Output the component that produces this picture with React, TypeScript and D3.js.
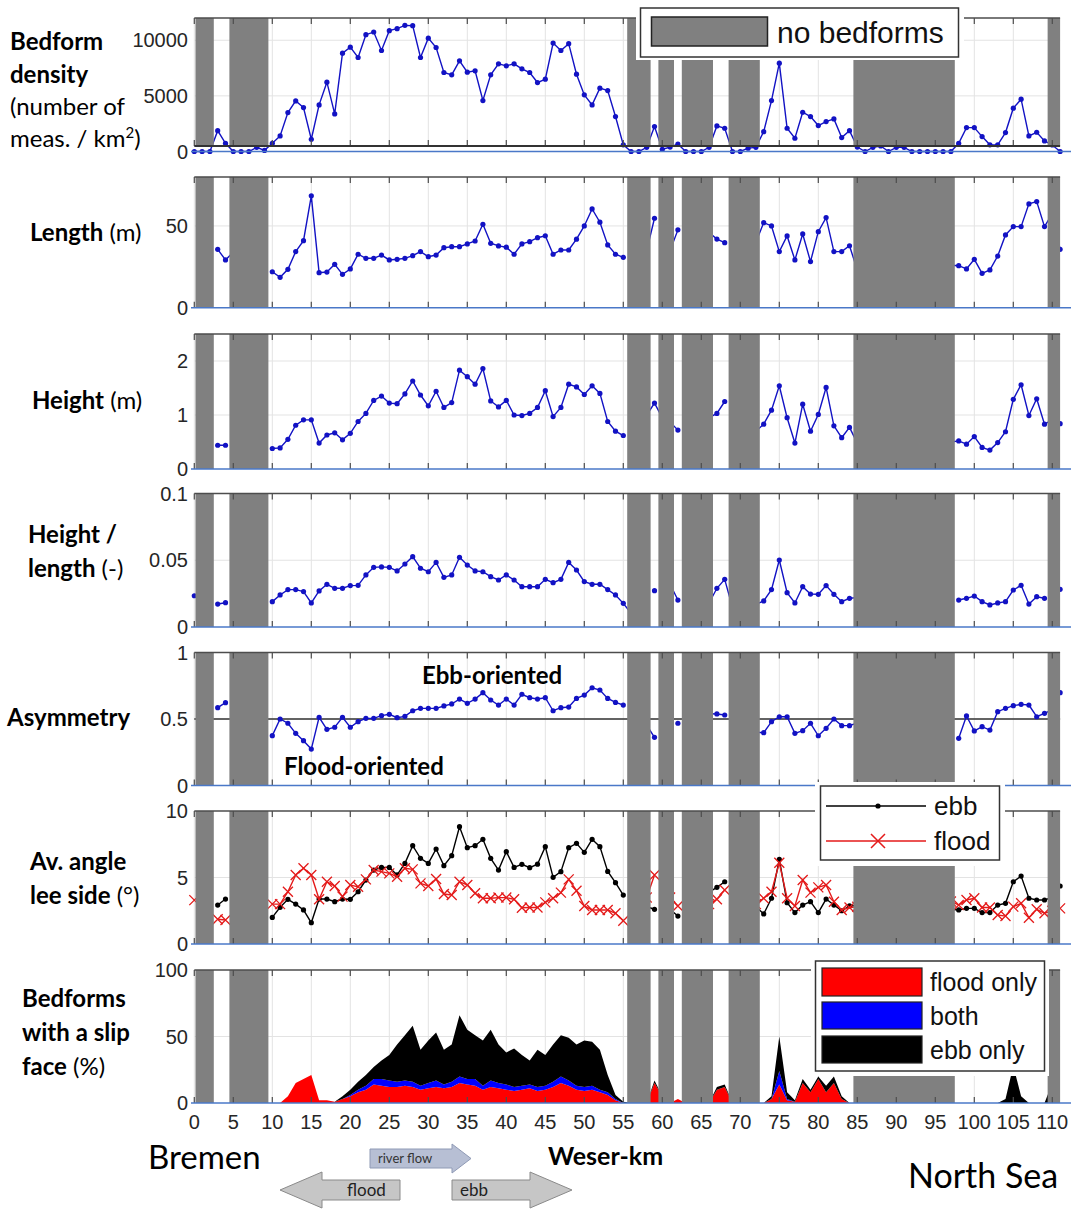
import React from "react"
import * as d3 from "d3"

// km positions along the Weser (one measurement per km)
const km = d3.range(0, 112)
const xTicks = d3.range(0, 111, 5)

// km ranges without bedforms (grey bands)
const noBedforms: [number, number][] = [
  [0.15, 2.5], [4.5, 9.5], [55.5, 58.5], [59.5, 61.5], [62.5, 66.5], [68.5, 72.5], [84.5, 97.5], [109.4, 111],
]

const N = null

// number of meas. / km2
const density = [
  0, 0, 0, 1875, 735, 0, 0, 0, 375, 100,
  735, 1400, 3500, 4550, 3950, 1100, 4190, 6230, 3380, 8840,
  9380, 8450, 10500, 10740, 9080, 10860, 11040, 11340, 11310, 8450,
  10190, 9350, 7100, 6890, 8150, 7130, 7250, 4580, 6890, 7880,
  7700, 7880, 7430, 7100, 6200, 6500, 9750, 9080, 9690, 6950,
  5090, 4190, 5690, 5480, 3140, 600, 0, 0, 375, 2240,
  200, 400, 675, 0, 0, 0, 375, 2300, 2090, 0,
  0, 300, 375, 1785, 4580, 7940, 2090, 1190, 3530, 3140,
  2330, 2690, 2930, 1250, 1875, 400, 0, 375, 500, 0,
  375, 375, 0, 0, 0, 0, 0, 0, 735, 2150,
  2150, 1340, 600, 600, 1700, 3890, 4700, 1400, 1730, 950,
  585, 0,
]

// m
const lengthM = [
  N, N, N, 35.7, 29.2, 34, N, N, N, N,
  22.0, 18.6, 23.5, 34.3, 41, 68.4, 21.4, 21.8, 26.5, 20.4,
  23.7, 32.7, 30.2, 30.2, 32.2, 29.2, 29.6, 30.2, 31.8, 34.3,
  31.2, 32.2, 36.7, 37.3, 37.3, 39, 40.8, 51, 39.4, 37.8,
  37, 32.7, 39, 40.4, 42.8, 44, 32.7, 35.3, 35.3, 41.9,
  50, 60.4, 52.3, 38.4, 32.7, 30.8, N, N, 35, 54.7,
  N, 35, 47.6, N, N, N, 46, 42, 39.8, N,
  N, N, 40, 52, 50, 34.3, 43.9, 29.2, 45.1, 28.2,
  46.5, 55.1, 34.3, 34.3, 37.9, 23, N, N, N, N,
  N, N, N, N, N, N, N, 26, 25.7, 23.7,
  29.6, 21, 23.1, 31.6, 44.5, 49.6, 49.6, 63.5, 64.9, 49.6,
  57.5, 35.7,
]

// m
const heightM = [
  N, N, N, 0.44, 0.44, N, N, N, N, N,
  0.38, 0.39, 0.55, 0.81, 0.91, 0.91, 0.48, 0.63, 0.67, 0.54,
  0.66, 0.88, 1.03, 1.27, 1.35, 1.22, 1.21, 1.39, 1.63, 1.37,
  1.17, 1.44, 1.14, 1.23, 1.83, 1.71, 1.57, 1.86, 1.26, 1.15,
  1.27, 1.0, 0.99, 1.03, 1.14, 1.45, 0.97, 1.14, 1.57, 1.52,
  1.38, 1.54, 1.4, 0.88, 0.7, 0.62, N, N, 1.0, 1.22,
  0.95, 0.87, 0.72, N, N, N, 0.95, 1.03, 1.25, N,
  N, N, 0.7, 0.83, 1.09, 1.54, 0.95, 0.48, 1.2, 0.7,
  1.01, 1.51, 0.8, 0.58, 0.77, 0.48, N, N, N, N,
  N, N, N, N, N, N, N, 0.5, 0.52, 0.46,
  0.6, 0.4, 0.35, 0.49, 0.69, 1.29, 1.56, 0.99, 1.3, 0.83,
  0.91, 0.84,
]

// height / length
const steepness = [
  0.0234, N, N, 0.0172, 0.0182, N, N, N, N, N,
  0.019, 0.024, 0.028, 0.028, 0.0265, 0.018, 0.027, 0.032, 0.029, 0.029,
  0.031, 0.0312, 0.039, 0.0447, 0.045, 0.0447, 0.042, 0.0472, 0.0527, 0.044,
  0.0414, 0.0484, 0.0372, 0.039, 0.0522, 0.0464, 0.042, 0.0414, 0.0377, 0.0352,
  0.039, 0.0352, 0.0302, 0.0302, 0.0302, 0.0357, 0.0332, 0.0357, 0.0484, 0.0427,
  0.034, 0.032, 0.032, 0.028, 0.024, 0.0177, 0.0103, N, N, 0.0272,
  N, 0.032, 0.0202, N, N, N, 0.018, 0.029, 0.0357, 0.0145,
  N, N, 0.017, 0.0195, 0.028, 0.0502, 0.0257, 0.018, 0.0302, 0.0247,
  0.0245, 0.031, 0.0245, 0.019, 0.0215, 0.022, N, N, N, N,
  N, N, N, N, N, N, N, N, 0.0202, 0.0215,
  0.0232, 0.019, 0.0165, 0.018, 0.019, 0.0277, 0.0312, 0.0172, 0.0227, 0.0215,
  N, 0.0282,
]

const asymmetry = [
  N, N, N, 0.585, 0.623, N, N, N, N, N,
  0.375, 0.5, 0.468, 0.392, 0.337, 0.274, 0.513, 0.422, 0.438, 0.513,
  0.438, 0.48, 0.505, 0.505, 0.525, 0.535, 0.51, 0.52, 0.562, 0.58,
  0.58, 0.58, 0.598, 0.613, 0.65, 0.618, 0.65, 0.698, 0.643, 0.605,
  0.65, 0.605, 0.686, 0.66, 0.65, 0.66, 0.562, 0.585, 0.59, 0.655,
  0.68, 0.735, 0.718, 0.655, 0.625, 0.605, N, N, 0.453, 0.362,
  N, N, 0.468, N, N, N, 0.54, 0.538, 0.53, N,
  N, N, 0.4, 0.397, 0.48, 0.517, 0.517, 0.392, 0.412, 0.468,
  0.374, 0.43, 0.5, 0.45, 0.45, 0.47, N, N, N, N,
  N, N, N, N, N, N, N, N, 0.355, 0.523,
  0.41, 0.442, 0.417, 0.555, 0.58, 0.6, 0.61, 0.605, 0.517, 0.543,
  0.57, 0.698,
]

// average lee side angle (deg)
const angleEbb = [
  N, N, N, 2.93, 3.38, N, N, N, N, N,
  2.0, 2.76, 3.36, 3.0, 2.56, 1.6, 3.38, 3.38, 3.18, 3.38,
  3.36, 3.93, 4.81, 5.56, 5.76, 5.76, 5.19, 6.06, 7.39, 6.44,
  6.06, 7.14, 5.89, 6.64, 8.82, 7.24, 7.39, 7.87, 6.44, 5.56,
  6.94, 5.76, 5.99, 5.74, 6.0, 7.32, 5.01, 5.44, 7.24, 7.57,
  6.89, 7.87, 7.32, 5.46, 4.61, 3.68, N, N, 2.8, 2.61,
  N, 2.6, 2.1, N, N, N, 3.9, 4.26, 4.68, N,
  N, N, 2.8, 2.26, 3.44, 6.37, 3.1, 2.36, 2.93, 3.18,
  2.36, 3.38, 2.93, 2.5, 2.86, 2.9, N, N, N, N,
  N, N, N, N, N, N, N, 2.6, 2.56, 2.68,
  2.68, 2.36, 2.36, 2.93, 3.06, 4.68, 5.11, 3.44, 3.31, 3.31,
  3.5, 4.36,
]

const angleFlood = [
  3.3, N, N, 1.86, 1.8, N, N, N, N, N,
  3.0, 3.0, 3.93, 5.19, 5.69, 5.19, 3.36, 4.68, 4.36, 3.56,
  4.44, 4.3, 4.86, 5.56, 5.44, 5.31, 5.06, 5.69, 5.61, 4.56,
  4.36, 4.89, 3.76, 3.68, 4.68, 4.44, 3.81, 3.44, 3.44, 3.49,
  3.49, 3.36, 2.73, 2.74, 2.74, 3.13, 3.44, 3.86, 4.86, 4.01,
  2.86, 2.56, 2.56, 2.56, 2.31, 1.75, N, N, 3.5, 5.19,
  N, 3.5, 2.86, N, N, N, 3.0, 3.36, 4.06, N,
  N, N, 3.0, 3.44, 3.93, 6.11, 3.44, 2.86, 4.81, 3.86,
  4.26, 4.44, 3.18, 2.56, 2.74, 2.8, N, N, N, N,
  N, N, N, N, N, N, N, 3.2, 2.93, 3.31,
  3.44, 2.74, 2.74, 2.18, 2.1, 2.81, 3.06, 1.98, 2.61, 2.31,
  2.5, 2.68,
]

// bedforms with a slip face (%), stacked: flood only, both, ebb only
const slipFlood = [
  0, 0, 0, 0, 0, 0, 0, 0, 0, 0,
  0, 0, 5, 15, 18, 21, 2, 2, 1, 3,
  5, 8, 10, 14, 13, 12, 12, 13, 12, 10,
  11, 12, 11, 12, 15, 14, 13, 10, 12, 11,
  10, 9, 10, 11, 9, 10, 12, 15, 13, 10,
  9, 10, 8, 6, 2, 0, 0, 0, 0, 15,
  5, 0, 3, 0, 0, 0, 0, 10, 12, 0,
  0, 0, 0, 0, 3, 14, 2, 1, 15, 8,
  18, 8, 15, 3, 0, 0, 0, 0, 0, 0,
  0, 0, 0, 0, 0, 0, 0, 0, 0, 0,
  0, 0, 0, 0, 0, 0, 0, 0, 0, 0,
  0, 0,
]
const slipBoth = [
  0, 0, 0, 0, 0, 0, 0, 0, 0, 0,
  0, 0, 0, 0, 0, 0, 0, 0, 0, 0,
  1, 2, 3, 4, 5, 5, 4, 4, 4, 3,
  4, 5, 3, 4, 5, 4, 5, 3, 5, 4,
  4, 3, 3, 3, 3, 3, 4, 5, 4, 3,
  3, 3, 2, 2, 1, 0, 0, 0, 0, 0,
  0, 0, 0, 0, 0, 0, 0, 0, 0, 0,
  0, 0, 0, 0, 0, 10, 1, 0, 0, 0,
  0, 0, 0, 0, 0, 0, 0, 0, 0, 0,
  0, 0, 0, 0, 0, 0, 0, 0, 0, 0,
  0, 0, 0, 0, 0, 0, 0, 0, 0, 0,
  0, 0,
]
const slipEbb = [
  0, 0, 0, 0, 0, 0, 0, 0, 0, 0,
  0, 0, 0, 0, 0, 0, 0, 0, 0, 2,
  4, 6, 8, 9, 14, 19, 28, 34, 42, 27,
  32, 36, 26, 28, 46, 37, 33, 34, 38, 29,
  24, 29, 23, 18, 28, 23, 28, 31, 32, 31,
  35, 33, 30, 13, 3, 1, 0, 0, 0, 2,
  0, 0, 0, 0, 0, 0, 0, 2, 2, 0,
  0, 0, 0, 0, 2, 26, 5, 1, 3, 2,
  2, 5, 5, 2, 0, 0, 0, 0, 0, 0,
  0, 0, 0, 0, 0, 0, 0, 0, 0, 0,
  0, 0, 0, 0, 3, 28, 5, 0, 0, 0,
  15, 0,
]

const BAND = "#808080"
const GRID = "#e3e3e3"
const FRAME = "#4d4d4d"
const BLUE = "#1212c4"
const SEP = "#4a78c8"
const TICKFONT = "'Liberation Sans', Arial, sans-serif"
const LABELFONT = "Lato, 'Open Sans', sans-serif"

const x = d3.scaleLinear().domain([0, 111]).range([194.3, 1060.1])

type PanelDef = {
  id: string
  domain: [number, number]
  range: [number, number]
  ticks: number[]
  fmt: (v: number) => string
  bandBottom?: number
}

const panels: PanelDef[] = [
  { id: "density", domain: [0, 12000], range: [151.5, 18], ticks: [0, 5000, 10000], fmt: d => String(d), bandBottom: 146 },
  { id: "length", domain: [0, 80], range: [307.7, 176.9], ticks: [0, 50], fmt: d => String(d) },
  { id: "height", domain: [0, 2.5], range: [469, 334], ticks: [0, 1, 2], fmt: d => String(d) },
  { id: "steep", domain: [0, 0.1], range: [627, 493.5], ticks: [0, 0.05, 0.1], fmt: d => String(d) },
  { id: "asym", domain: [0, 1], range: [785.5, 652.5], ticks: [0, 0.5, 1], fmt: d => String(d) },
  { id: "angle", domain: [0, 10], range: [944, 811], ticks: [0, 5, 10], fmt: d => String(d) },
  { id: "slip", domain: [0, 100], range: [1103, 970], ticks: [0, 50, 100], fmt: d => String(d) },
]

function Background({ p }: { p: PanelDef }) {
  const y = d3.scaleLinear().domain(p.domain).range(p.range)
  const top = p.range[1]
  const bottom = p.bandBottom ?? p.range[0]
  return (
    <g>
      {xTicks.map(t => (
        <line key={"vx" + t} x1={x(t)} x2={x(t)} y1={top} y2={bottom} stroke={GRID} strokeWidth={1} />
      ))}
      {p.ticks.filter(t => t > 0 && t < p.domain[1]).map(t => (
        <line key={"hy" + t} x1={x(0)} x2={x(111)} y1={y(t)} y2={y(t)} stroke={GRID} strokeWidth={1} />
      ))}
    </g>
  )
}

function Bands({ p }: { p: PanelDef }) {
  const top = p.range[1]
  const bottom = p.bandBottom ?? p.range[0]
  return (
    <g>
      {noBedforms.map(([a, b], i) => (
        <rect key={i} x={x(a)} y={top} width={x(b) - x(a)} height={bottom - top} fill={BAND} />
      ))}
    </g>
  )
}

function Frame({ p }: { p: PanelDef }) {
  const y = d3.scaleLinear().domain(p.domain).range(p.range)
  const top = p.range[1]
  const bottom = p.bandBottom ?? p.range[0]
  return (
    <g>
      <line x1={x(0)} x2={x(111)} y1={top} y2={top} stroke={FRAME} strokeWidth={1.5} />
      {xTicks.map(t => (
        <g key={t}>
          <line x1={x(t)} x2={x(t)} y1={top} y2={top + 6} stroke={FRAME} strokeWidth={1.2} />
          <line x1={x(t)} x2={x(t)} y1={bottom} y2={bottom - 6} stroke={FRAME} strokeWidth={1.2} />
        </g>
      ))}
      {p.bandBottom != null && (
        <line x1={x(0)} x2={x(111)} y1={p.bandBottom} y2={p.bandBottom} stroke="#333" strokeWidth={2} />
      )}
      <line x1={191} x2={1071} y1={y(0)} y2={y(0)} stroke={SEP} strokeWidth={1.5} />
      {p.ticks.map(t => (
        <text key={"l" + t} x={188} y={y(t)} dy="0.36em" textAnchor="end" fontFamily={TICKFONT} fontSize={20} fill="#262626">
          {p.fmt(t)}
        </text>
      ))}
    </g>
  )
}

function SeriesLine({ values, y, color, marker }: { values: (number | null)[]; y: d3.ScaleLinear<number, number>; color: string; marker: "dot" | "x" }) {
  const line = d3.line<number | null>()
    .defined(v => v != null)
    .x((_, i) => x(km[i]))
    .y(v => y(v as number))
  return (
    <g>
      <path d={line(values) ?? ""} fill="none" stroke={color} strokeWidth={1.4} />
      {values.map((v, i) =>
        v == null ? null : marker === "dot" ? (
          <circle key={i} cx={x(km[i])} cy={y(v)} r={2.6} fill={color} />
        ) : (
          <path key={i} transform={`translate(${x(km[i])},${y(v)})`} d="M-5,-5L5,5M-5,5L5,-5" stroke={color} strokeWidth={1.3} fill="none" />
        )
      )}
    </g>
  )
}

function SlipAreas({ p }: { p: PanelDef }) {
  const y = d3.scaleLinear().domain(p.domain).range(p.range)
  const rows = km.map((k, i) => ({ k, flood: slipFlood[i], both: slipBoth[i], ebb: slipEbb[i] }))
  const stack = d3.stack<{ k: number; flood: number; both: number; ebb: number }>().keys(["flood", "both", "ebb"])(rows)
  const area = d3.area<d3.SeriesPoint<{ k: number }>>()
    .x(d => x(d.data.k))
    .y0(d => y(d[0]))
    .y1(d => y(d[1]))
  const colors = ["#ff0000", "#0000ff", "#000000"]
  return (
    <g>
      {stack.map((s, i) => (
        <path key={s.key} d={area(s as any) ?? ""} fill={colors[i]} stroke="none" />
      ))}
    </g>
  )
}

function Label({ x: lx, y: ly, bold, normal }: { x: number; y: number; bold: string; normal?: string }) {
  return (
    <text x={lx} y={ly} fontFamily={LABELFONT} fontSize={24} fill="#000">
      <tspan fontWeight="bold">{bold}</tspan>
      {normal && <tspan fontWeight="normal">{normal}</tspan>}
    </text>
  )
}

export default function App() {
  const ys = Object.fromEntries(panels.map(p => [p.id, d3.scaleLinear().domain(p.domain).range(p.range)])) as Record<string, d3.ScaleLinear<number, number>>
  const pSlip = panels[6]

  return (
    <div style={{ position: "absolute", left: 0, top: 0, width: 1071, height: 1211, background: "#fff" }}>
      <svg width={1071} height={1211} viewBox="0 0 1071 1211">
        <rect width={1071} height={1211} fill="#fff" />

        {panels.map(p => <Background key={"bg" + p.id} p={p} />)}

        {/* data */}
        <SeriesLine values={density} y={ys.density} color={BLUE} marker="dot" />
        <SeriesLine values={lengthM} y={ys.length} color={BLUE} marker="dot" />
        <SeriesLine values={heightM} y={ys.height} color={BLUE} marker="dot" />
        <SeriesLine values={steepness} y={ys.steep} color={BLUE} marker="dot" />
        <line x1={x(0)} x2={x(111)} y1={ys.asym(0.5)} y2={ys.asym(0.5)} stroke="#333" strokeWidth={1.5} />
        <SeriesLine values={asymmetry} y={ys.asym} color={BLUE} marker="dot" />
        <SeriesLine values={angleEbb} y={ys.angle} color="#000" marker="dot" />
        <SeriesLine values={angleFlood} y={ys.angle} color="#e41a1a" marker="x" />
        <SlipAreas p={pSlip} />

        {panels.map(p => <Bands key={"b" + p.id} p={p} />)}
        {panels.map(p => <Frame key={"f" + p.id} p={p} />)}

        {/* x axis labels */}
        {xTicks.map(t => (
          <text key={t} x={x(t)} y={1129} textAnchor="middle" fontFamily={TICKFONT} fontSize={20} fill="#262626">{t}</text>
        ))}

        {/* legend: no bedforms */}
        <rect x={636} y={4} width={328} height={56} fill="#fff" />
        <rect x={640.5} y={8} width={318} height={49} fill="#fff" stroke="#333" strokeWidth={1.5} />
        <rect x={651.5} y={17} width={116} height={29} fill={BAND} stroke="#222" strokeWidth={1.5} />
        <text x={777} y={43} fontFamily={TICKFONT} fontSize={30} fill="#111">no bedforms</text>

        {/* legend: ebb / flood */}
        <rect x={815} y={782} width={190} height={84} fill="#fff" />
        <rect x={820.5} y={786} width={179} height={74} fill="#fff" stroke="#333" strokeWidth={1.5} />
        <line x1={826} x2={926} y1={806} y2={806} stroke="#000" strokeWidth={1.4} />
        <circle cx={878} cy={806} r={2.6} fill="#000" />
        <text x={934} y={815} fontFamily={TICKFONT} fontSize={26} fill="#111">ebb</text>
        <line x1={826} x2={926} y1={841} y2={841} stroke="#e41a1a" strokeWidth={1.4} />
        <path transform="translate(878,841)" d="M-7,-7L7,7M-7,7L7,-7" stroke="#e41a1a" strokeWidth={1.5} />
        <text x={934} y={850} fontFamily={TICKFONT} fontSize={26} fill="#111">flood</text>

        {/* legend: slip face */}
        <rect x={811} y={956} width={238} height={120} fill="#fff" />
        <rect x={815.5} y={961} width={229} height={110} fill="#fff" stroke="#333" strokeWidth={1.5} />
        <rect x={822} y={968} width={100} height={28} fill="#ff0000" stroke="#222" strokeWidth={1.2} />
        <text x={930} y={991} fontFamily={TICKFONT} fontSize={25} fill="#111">flood only</text>
        <rect x={822} y={1002} width={100} height={27} fill="#0000ff" stroke="#222" strokeWidth={1.2} />
        <text x={930} y={1025} fontFamily={TICKFONT} fontSize={25} fill="#111">both</text>
        <rect x={822} y={1036} width={100} height={27} fill="#000" stroke="#222" strokeWidth={1.2} />
        <text x={930} y={1059} fontFamily={TICKFONT} fontSize={25} fill="#111">ebb only</text>

        {/* left labels */}
        <Label x={10} y={50} bold="Bedform" />
        <Label x={10} y={83} bold="density" />
        <Label x={10} y={115} bold="" normal="(number of" />
        <text x={10} y={147} fontFamily={LABELFONT} fontSize={24}>meas. / km<tspan fontSize={15} dy={-9}>2</tspan><tspan dy={9}>)</tspan></text>
        <Label x={30} y={241} bold="Length" normal=" (m)" />
        <Label x={32} y={409} bold="Height" normal=" (m)" />
        <Label x={28} y={543} bold="Height /" />
        <Label x={28} y={577} bold="length" normal=" (-)" />
        <Label x={7} y={726} bold="Asymmetry" />
        <Label x={30} y={870} bold="Av. angle" />
        <Label x={30} y={904} bold="lee side" normal=" (°)" />
        <Label x={22} y={1007} bold="Bedforms" />
        <Label x={22} y={1041} bold="with a slip" />
        <Label x={22} y={1075} bold="face" normal=" (%)" />

        {/* annotations */}
        <text x={422} y={684} fontFamily={LABELFONT} fontSize={24} fontWeight="bold">Ebb-oriented</text>
        <text x={284} y={775} fontFamily={LABELFONT} fontSize={24} fontWeight="bold">Flood-oriented</text>

        {/* bottom */}
        <text x={148} y={1169} fontFamily={LABELFONT} fontSize={33}>Bremen</text>
        <text x={548} y={1165} fontFamily={LABELFONT} fontSize={25} fontWeight="bold">Weser-km</text>
        <text x={908} y={1188} fontFamily={LABELFONT} fontSize={34}>North Sea</text>

        <polygon points="370,1149 452,1149 452,1144 471,1158.5 452,1173 452,1168 370,1168" fill="#b7bfd4" stroke="#8f9ab5" strokeWidth={1} />
        <text x={378} y={1163} fontFamily={LABELFONT} fontSize={13} fill="#333">river flow</text>
        <polygon points="400,1180 322,1180 322,1172 280,1190 322,1208 322,1200 400,1200" fill="#c6c6c6" stroke="#8a8a8a" strokeWidth={1} />
        <text x={347} y={1196} fontFamily={LABELFONT} fontSize={17} fill="#222">flood</text>
        <polygon points="452,1180 530,1180 530,1172 572,1190 530,1208 530,1200 452,1200" fill="#c6c6c6" stroke="#8a8a8a" strokeWidth={1} />
        <text x={460} y={1196} fontFamily={LABELFONT} fontSize={17} fill="#222">ebb</text>
      </svg>
    </div>
  )
}
